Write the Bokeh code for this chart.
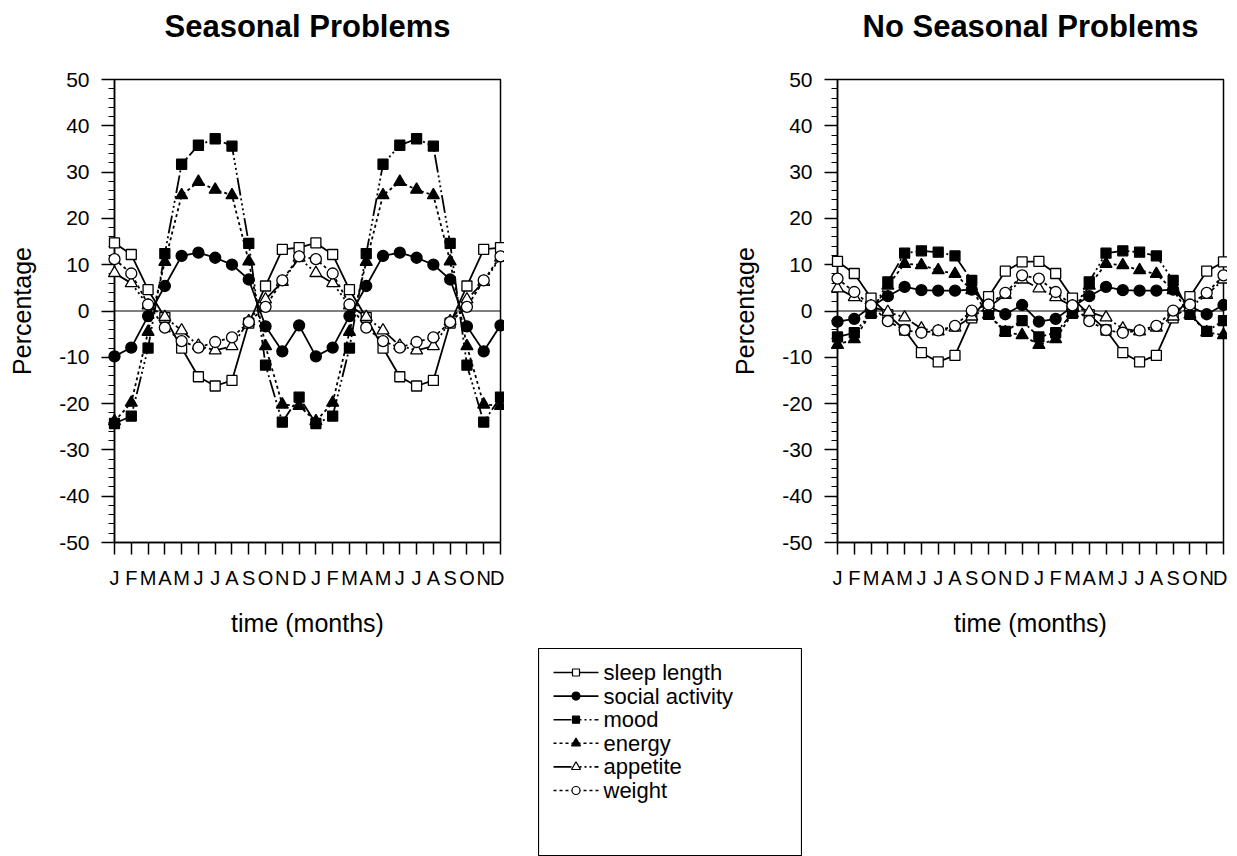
from bokeh.plotting import figure
from bokeh.models import (Range1d, FixedTicker, SingleIntervalTicker, Span, Spacer, Label)
from bokeh.core.properties import value
from bokeh.layouts import column, row
from bokeh.embed import file_html
from bokeh.resources import INLINE

# ---------------- data ----------------
months = ["J", "F", "M", "A", "M", "J", "J", "A", "S", "O", "N", "D"]
series_names = ["sleep length", "social activity", "mood", "energy", "appetite", "weight"]
titles = ["Seasonal Problems", "No Seasonal Problems"]

# Seasonal Problems (percentage deviation per month)
sleep_s = [14.7, 12.2, 4.6, -1.4, -8.0, -14.2, -16.2, -15.0, -2.6, 5.4, 13.3, 13.7]
social_s = [-9.8, -7.9, -1.1, 5.4, 11.9, 12.6, 11.5, 10.0, 6.8, -3.3, -8.7, -3.1]
mood_s = [-24.3, -22.7, -8.0, 12.4, 31.7, 35.8, 37.2, 35.6, 14.6, -11.7, -24.0, -18.6]
energy_s = [-23.8, -19.8, -4.5, 10.6, 25.0, 27.9, 26.2, 25.0, 10.7, -7.6, -20.2, -20.5]
appetite_s = [8.2, 6.0, 1.2, -1.3, -4.2, -7.5, -8.5, -7.6, -2.2, 2.5, 6.3, 11.5]
weight_s = [11.2, 8.1, 1.4, -3.6, -6.5, -7.9, -6.7, -5.7, -2.4, 0.9, 6.6, 11.8]

# No Seasonal Problems
sleep_n = [10.7, 8.1, 2.8, -0.8, -4.1, -9.0, -11.0, -9.6, -1.5, 3.1, 8.6, 10.6]
social_n = [-2.3, -1.7, 0.9, 3.2, 5.2, 4.5, 4.4, 4.4, 4.6, 1.0, -0.7, 1.3]
mood_n = [-5.6, -4.7, -0.5, 6.3, 12.5, 13.0, 12.7, 11.9, 6.6, -0.7, -4.4, -2.1]
energy_n = [-7.3, -6.1, -0.5, 5.5, 10.2, 9.9, 8.8, 8.0, 4.5, -0.8, -4.6, -5.2]
appetite_n = [4.9, 3.0, 1.0, -0.2, -1.4, -3.8, -4.4, -3.6, -1.2, 0.8, 3.5, 6.8]
weight_n = [7.0, 4.1, 1.2, -2.2, -4.1, -4.7, -4.2, -3.2, 0.1, 1.4, 3.9, 7.7]

y_ticks = [-50, -40, -30, -20, -10, 0, 10, 20, 30, 40, 50]

# ---------------- styles ----------------
FONT = "Liberation Sans"
MIXED = "18 3 2 3 2 3 2 3 2 3"
STYLE = {
    "sleep length":    dict(marker="square",   fill="white", dash="solid", size=10),
    "social activity": dict(marker="circle",   fill="black", dash="solid", size=11),
    "mood":            dict(marker="square",   fill="black", dash=MIXED,   size=10),
    "energy":          dict(marker="triangle", fill="black", dash="3 3",   size=12),
    "appetite":        dict(marker="triangle", fill="white", dash=MIXED,   size=12),
    "weight":          dict(marker="circle",   fill="white", dash="3 3",   size=11),
}

n_points = 2 * len(months)          # the 12 months are plotted twice
xs = list(range(n_points))
FW, FH = 386, 463
TITLE_H = 50


def make_title(text, border_left, width):
    t = figure(width=width, height=TITLE_H, x_range=Range1d(0, width),
               y_range=Range1d(0, TITLE_H), output_backend="svg",
               toolbar_location=None, min_border=0)
    t.axis.visible = False
    t.xgrid.visible = False
    t.ygrid.visible = False
    t.outline_line_color = None
    t.add_layout(Label(x=border_left + FW / 2, y=24, text=text, text_align="center",
                       text_baseline="middle", text_font=FONT, text_font_size="31px",
                       text_font_style="bold", text_color="black"))
    return t


def make_panel(series, border_left):
    p = figure(frame_width=FW, frame_height=FH,
               x_range=Range1d(0, n_points - 1), y_range=Range1d(-50, 50),
               output_backend="svg", toolbar_location=None,
               min_border_left=border_left, min_border_right=4,
               min_border_top=79 - TITLE_H, min_border_bottom=100)
    p.xgrid.visible = False
    p.ygrid.visible = False
    p.outline_line_color = "black"
    p.outline_line_width = 1.5
    p.background_fill_color = "white"
    p.border_fill_color = "white"

    xa = p.xaxis[0]
    xa.ticker = FixedTicker(ticks=xs)
    xa.major_label_overrides = {i: months[i % 12] for i in xs}
    xa.major_tick_out = 12
    xa.major_tick_in = 0
    xa.axis_line_width = 1.5
    xa.major_tick_line_width = 1.5
    xa.major_label_text_font = FONT
    xa.major_label_text_font_size = "20px"
    xa.major_label_text_color = "black"
    xa.major_label_standoff = 12
    xa.axis_label = "time (months)"
    xa.axis_label_text_font = FONT
    xa.axis_label_text_font_size = "25px"
    xa.axis_label_text_font_style = "normal"
    xa.axis_label_text_color = "black"
    xa.axis_label_standoff = 17

    ya = p.yaxis[0]
    ya.ticker = SingleIntervalTicker(interval=10, num_minor_ticks=5)
    ya.major_label_overrides = {v: str(v) for v in y_ticks}
    ya.major_tick_out = 13
    ya.major_tick_in = 0
    ya.minor_tick_out = 6
    ya.minor_tick_in = 0
    ya.axis_line_width = 1.5
    ya.major_tick_line_width = 1.5
    ya.minor_tick_line_width = 1.2
    ya.major_label_text_font = FONT
    ya.major_label_text_font_size = "21px"
    ya.major_label_text_color = "black"
    ya.major_label_standoff = 12
    ya.axis_label = "Percentage"
    ya.axis_label_text_font = FONT
    ya.axis_label_text_font_size = "25px"
    ya.axis_label_text_font_style = "normal"
    ya.axis_label_text_color = "black"
    ya.axis_label_standoff = 20

    p.add_layout(Span(location=0, dimension="width", line_color="black", line_width=1))

    for name in series_names:
        st = STYLE[name]
        ys = series[name] + series[name]
        p.line(xs, ys, line_color="black", line_width=1.8, line_dash=st["dash"])
        r = p.scatter(xs, ys, marker=st["marker"], size=st["size"],
                      fill_color=st["fill"], line_color="black", line_width=1.3)
        r.level = "overlay"
    return p


seasonal = {"sleep length": sleep_s, "social activity": social_s, "mood": mood_s,
            "energy": energy_s, "appetite": appetite_s, "weight": weight_s}
non_seasonal = {"sleep length": sleep_n, "social activity": social_n, "mood": mood_n,
                "energy": energy_n, "appetite": appetite_n, "weight": weight_n}

BL1, BL2 = 114, 333
W1, W2 = BL1 + FW + 4, BL2 + FW + 4
t1 = make_title(titles[0], BL1, W1)
t2 = make_title(titles[1], BL2, W2)
p1 = make_panel(seasonal, BL1)
p2 = make_panel(non_seasonal, BL2)

# ---------------- legend box (drawn in pixel units) ----------------
LW, LH = 264, 208
pl = figure(width=LW, height=LH, x_range=Range1d(0, LW), y_range=Range1d(0, LH),
            output_backend="svg", toolbar_location=None, min_border=0)
pl.axis.visible = False
pl.xgrid.visible = False
pl.ygrid.visible = False
pl.outline_line_color = "black"
pl.outline_line_width = 1.2
ROW0, PITCH = 24, 23.6
SAMPLE_X0, SAMPLE_X1, TEXT_X = 15, 60, 65
row_y = [LH - (ROW0 + i * PITCH) for i in range(len(series_names))]
for name, yy in zip(series_names, row_y):
    st = STYLE[name]
    pl.line([SAMPLE_X0, SAMPLE_X1], [yy, yy], line_color="black", line_width=1.6,
            line_dash=st["dash"])
    pl.scatter([(SAMPLE_X0 + SAMPLE_X1) / 2], [yy], marker=st["marker"], size=st["size"] - 3,
               fill_color=st["fill"], line_color="black", line_width=1.2)
pl.text(x=[TEXT_X] * len(series_names), y=row_y, text=series_names,
        text_font=value(FONT), text_font_size="22px", text_color="black",
        text_baseline="middle", text_align="left")

layout = column(row(t1, t2), row(p1, p2), Spacer(height=6), row(Spacer(width=538), pl))

open("out.html", "w").write(file_html(layout, INLINE))
